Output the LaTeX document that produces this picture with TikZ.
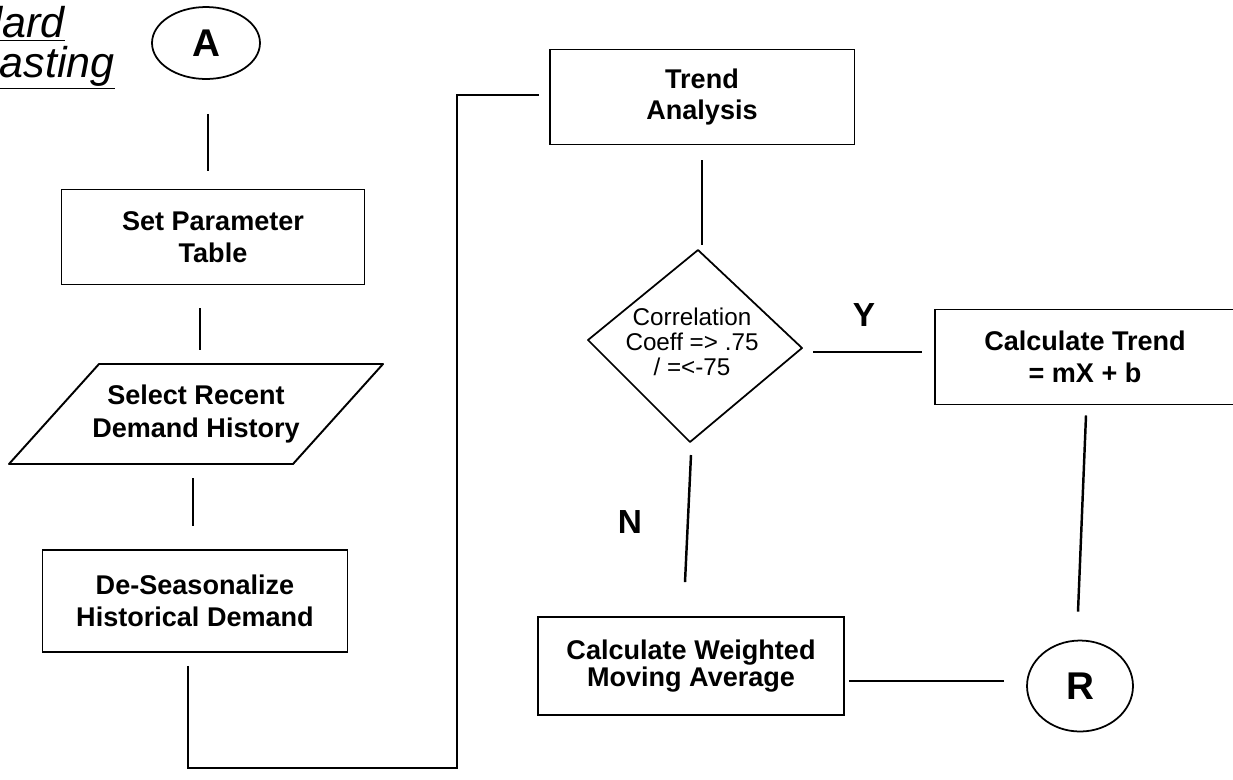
\documentclass[tikz,border=0pt]{standalone}
\usepackage{fontspec}
\setmainfont{Liberation Sans}
\usetikzlibrary{shapes.geometric,calc}
\begin{document}
\begin{tikzpicture}[x=0.02cm,y=-0.02cm,
  box/.style={draw,line width=1.1pt,rectangle,inner sep=0pt,align=center,
    font=\bfseries\fontsize{15.4}{18.2}\selectfont},
  term/.style={draw,line width=1pt,ellipse,inner sep=0pt,
    font=\bfseries\fontsize{22}{26}\selectfont},
  shapeline/.style={line width=1.1pt,line join=round},
  conn/.style={line width=1.4pt},
  yn/.style={font=\bfseries\fontsize{19}{22}\selectfont},
  heading/.style={font=\itshape\fontsize{24.5}{28}\selectfont,anchor=base east,inner sep=0pt}]

\useasboundingbox (0,0) rectangle (1233,779);
\clip (0,0) rectangle (1233,779);

% heading, running off the left edge
\node[heading] (t1) at (65,37) {\underline{Standard}};
\node[heading] (t2) at (115,77) {\underline{Forecasting}};

% left column
\node[term,minimum width=2.16cm,minimum height=1.44cm] (A) at (206,43) {A};
\node[box,minimum width=6.06cm,minimum height=1.9cm] (setp) at (213,237) {Set Parameter\\Table};
\node[inner sep=0pt,minimum width=5.68cm,minimum height=2cm,align=center,
      font=\bfseries\fontsize{15.4}{18.8}\selectfont] (sel) at (196,414) {Select Recent\\Demand History};
\draw[shapeline] (99,364) -- (383,364) -- (293,464) -- (9,464) -- cycle;
\node[box,minimum width=6.1cm,minimum height=2.04cm] (deseas) at (195,601) {De-Seasonalize\\Historical Demand};

% right part
\node[box,minimum width=6.1cm,minimum height=1.9cm] (trend) at (702,97) {Trend\\Analysis};
\draw[line width=1pt,line join=round] (698,250) coordinate (dT) -- (802,348) coordinate (dR)
  -- (690,442) coordinate (dB) -- (588,340) coordinate (dL) -- cycle;
\node[font=\fontsize{13.8}{14.2}\selectfont,align=center,inner sep=0pt] (corr) at (692,342)
  {Correlation\\Coeff => .75\\/ =<-75};
\node[box,minimum width=6cm,minimum height=1.9cm] (ctrend) at (1085,357) {Calculate Trend\\= mX + b};
\node[box,minimum width=6.12cm,minimum height=1.96cm,
      font=\bfseries\fontsize{15.4}{15.6}\selectfont] (wma) at (691,666) {Calculate Weighted\\Moving Average};
\node[term,minimum width=2.12cm,minimum height=1.82cm] (R) at (1080,686) {R};

\node[yn] (ylab) at (864,315) {Y};
\node[yn] (nlab) at (630,522) {N};

% connectors
\draw[conn] ($(A.south)+(2,34)$) -- ($(setp.north)+(-5,-18)$);
\draw[conn] ($(setp.south)+(-13,23)$) -- ($(sel.north)+(4,-14)$);
\draw[conn] ($(sel.south)+(-3,14)$) -- ($(deseas.north)+(-2,-23)$);
\coordinate (bend) at (457,768);
\draw[conn] ($(deseas.south)+(-7,13)$) |- (bend) |- ($(trend.west)+(-10,-2)$);
\draw[conn] ($(trend.south)+(0,15)$) -- ($(dT)+(4,-5)$);
\draw[conn] ($(dR)+(11,4)$) -- ($(ctrend.west)+(-12,-5)$);
\draw[conn] ($(dB)+(1,13)$) -- ($(wma.north)+(-6,-34)$);
\draw[conn] ($(ctrend.south)+(1,10)$) -- ($(R.north)+(-2,-28)$);
\draw[conn] ($(R.west)+(-22,-5)$) -- ($(wma.east)+(4,15)$);
\end{tikzpicture}
\end{document}
